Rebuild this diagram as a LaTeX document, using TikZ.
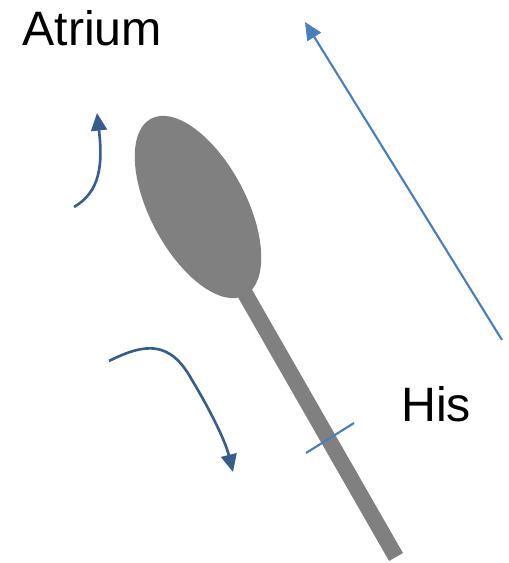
\documentclass[tikz,border=0pt]{standalone}
\usepackage{fontspec}
\setmainfont{Liberation Sans}
\usetikzlibrary{arrows.meta}
\definecolor{spoongrey}{RGB}{128,128,128}
\definecolor{lightblue}{RGB}{74,126,187}
\definecolor{darkblue}{RGB}{56,93,138}
\tikzset{
  lbl/.style={font=\fontsize{27.5}{31}\selectfont, inner sep=0pt, anchor=base west},
  bigarrow/.style={draw=lightblue, line width=1.2pt, -{Triangle[length=10pt,width=9pt]}},
  flowarrow/.style={draw=darkblue, line width=1.5pt, -{Triangle[length=10pt,width=9pt]}},
}
\begin{document}
\begin{tikzpicture}[x=0.02cm, y=-0.02cm]
\useasboundingbox (0,0) rectangle (509,563);
% spoon
\draw[spoongrey, line width=0.32cm] (243,290) -- (396,557);
\fill[spoongrey, rotate around={28:(198,207)}] (198,207) ellipse [x radius=48, y radius=100];
% crossing mark
\coordinate (m1) at (306,453);
\coordinate (m2) at (354,423);
\draw[lightblue, line width=1.2pt] (m1) -- (m2);
% long arrow
\coordinate (la1) at (502,340);
\coordinate (la2) at (305,22);
\draw[bigarrow] (la1) -- (la2);
% small arrows
\coordinate (a1s) at (74,207);
\coordinate (a1e) at (97,113);
\draw[flowarrow] (a1s) .. controls (100,192) and (103,165) .. (a1e);
\coordinate (a2s) at (109,361);
\coordinate (a2m) at (192,380);
\coordinate (a2e) at (233,472);
\draw[flowarrow] (a2s) .. controls (145,343) and (170,340) .. (a2m) .. controls (210,410) and (225,440) .. (a2e);
% labels
\node[lbl] (atrium) at (22,46) {Atrium};
\node[lbl] (his) at (401,421) {His};
\end{tikzpicture}
\end{document}
